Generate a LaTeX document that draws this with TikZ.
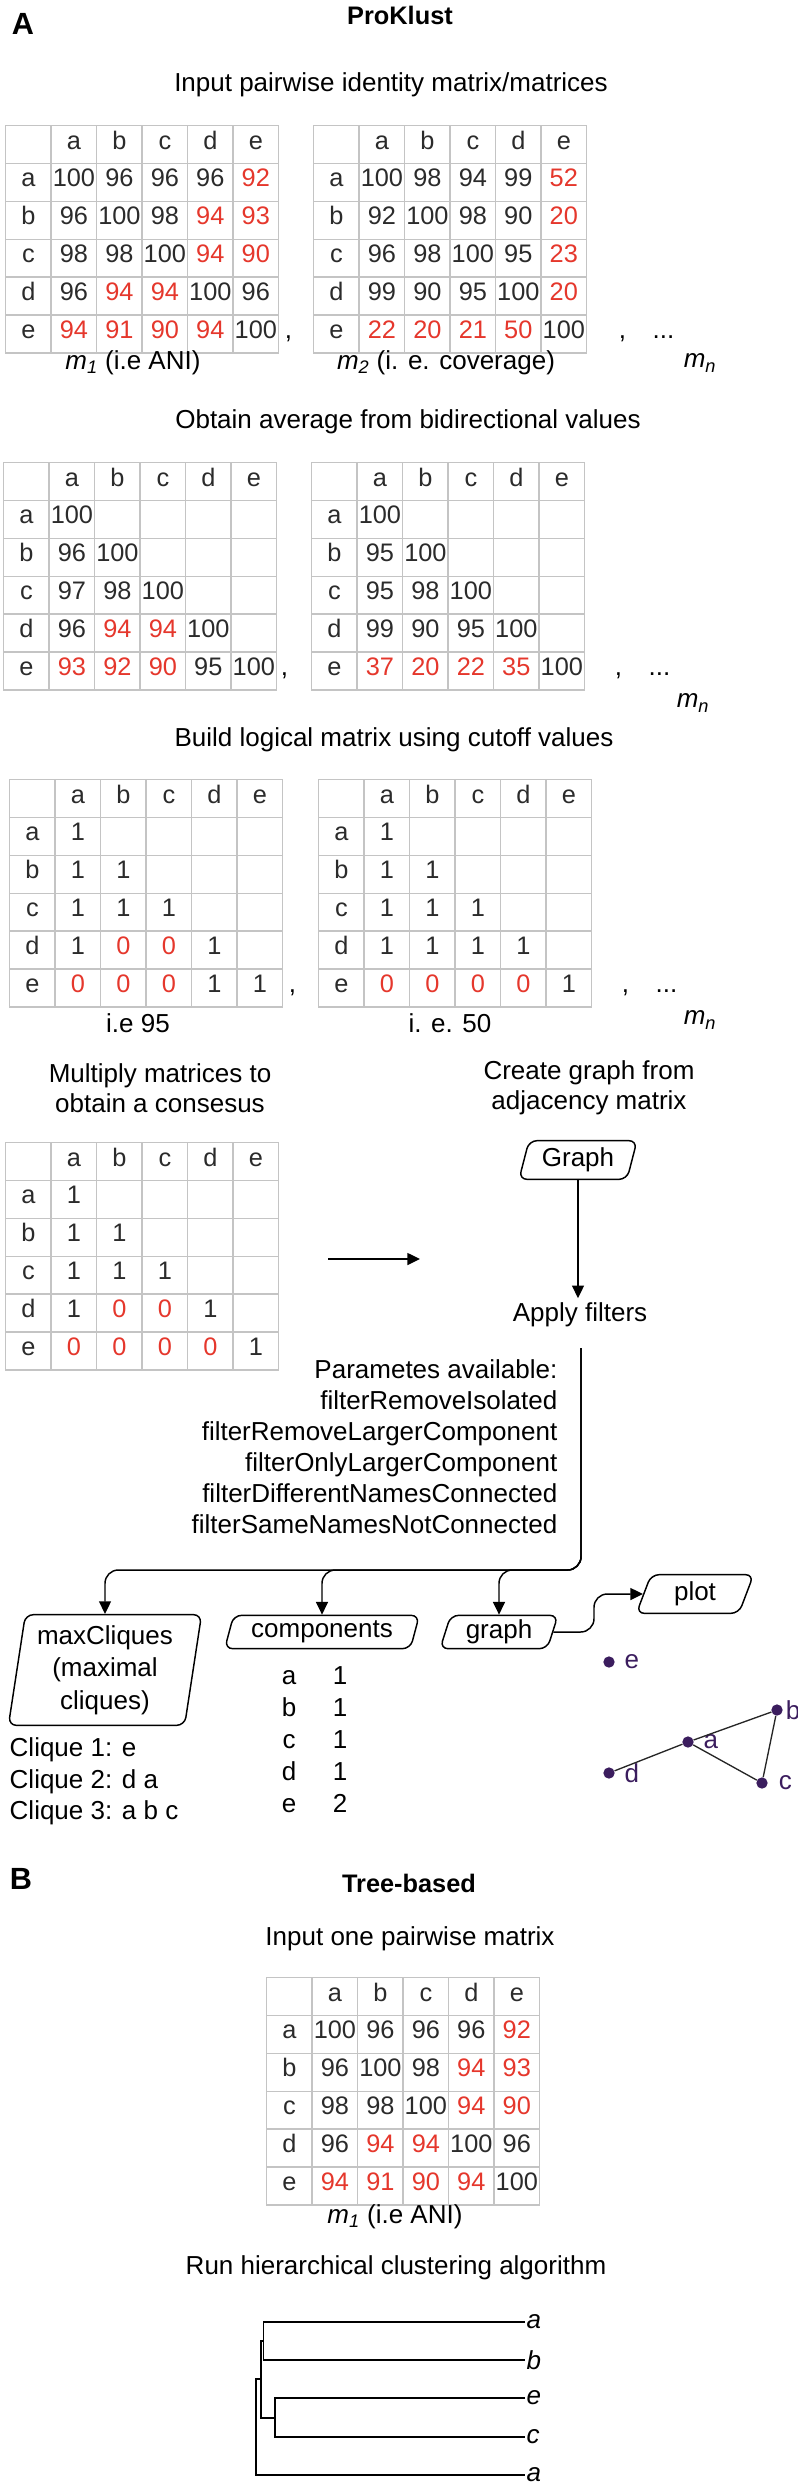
\documentclass[tikz,border=0pt]{standalone}
\usepackage{fontspec}
\setmainfont{Liberation Sans}
\usetikzlibrary{arrows.meta,positioning,calc,matrix,shapes.geometric}
\definecolor{gridc}{HTML}{C4C4C4}
\definecolor{hot}{HTML}{E5372C}
\definecolor{ink}{HTML}{2B2B2B}
\definecolor{vtx}{HTML}{3B1D5E}
\tikzset{
  cell/.style={draw=gridc,line width=1.1pt,minimum width=34.1pt,minimum height=28.4pt,
    inner sep=0pt,outer sep=0pt,text=ink,anchor=center,text height=1.45ex,text depth=.2ex,
    font=\fontsize{19}{22.5}\selectfont},
  tab/.style={matrix of nodes,nodes={cell},nodes in empty cells,row sep=-1.1pt,
    column sep=-1.1pt,inner sep=0pt,outer sep=0pt,anchor=north west},
  hi/.style={text=hot},
  heading/.style={font=\fontsize{19}{22.5}\selectfont\bfseries},
  panel/.style={font=\fontsize{23}{26}\selectfont\bfseries},
  iobox/.style={draw,line width=1.1pt,trapezium,trapezium left angle=75,
    trapezium right angle=105,trapezium stretches=true,rounded corners=6pt,
    inner sep=2pt,align=center},
  flow/.style={-{Triangle[length=9.5pt,width=9pt]},line width=1.1pt},
  dendro/.style={line width=1.4pt},
  vdot/.style={circle,fill=vtx,inner sep=0pt,minimum size=8.5pt},
  vlab/.style={text=vtx,inner sep=1pt},
  vlink/.style={line width=1pt,draw=black!85},
  leaf/.style={inner sep=1pt,anchor=west,font=\fontsize{19.5}{22.5}\selectfont\itshape},
  row/.style={text height=1.5ex,text depth=.25ex},
}

\begin{document}
\begin{tikzpicture}[x=0.75pt,y=-0.75pt,every node/.style={font=\fontsize{19.5}{22.5}\selectfont}]
  \useasboundingbox (0,0) rectangle (798,2486);
  % --- A: ProKlust
  \node[panel]   (pA) at (23,24) {A};
  \node[heading] (tA) at (400,15) {ProKlust};
  \node (s1) at (391,85) {Input pairwise identity matrix/matrices};
  \matrix (m1) [tab] at (5,125) {
      & a & b & c & d & e \\
    a & 100 & 96 & 96 & 96 & |[hi]| 92 \\
    b & 96 & 100 & 98 & |[hi]| 94 & |[hi]| 93 \\
    c & 98 & 98 & 100 & |[hi]| 94 & |[hi]| 90 \\
    d & 96 & |[hi]| 94 & |[hi]| 94 & 100 & 96 \\
    e & |[hi]| 94 & |[hi]| 91 & |[hi]| 90 & |[hi]| 94 & 100 \\
  };
  \matrix (m2) [tab] at (313,125) {
      & a & b & c & d & e \\
    a & 100 & 98 & 94 & 99 & |[hi]| 52 \\
    b & 92 & 100 & 98 & 90 & |[hi]| 20 \\
    c & 96 & 98 & 100 & 95 & |[hi]| 23 \\
    d & 99 & 90 & 95 & 100 & |[hi]| 20 \\
    e & |[hi]| 22 & |[hi]| 20 & |[hi]| 21 & |[hi]| 50 & 100 \\
  };
  \node[anchor=base west,inner sep=0pt] (k1) at ($(m1-6-6.base east)+(6,0)$) {,};
  \node[anchor=base west,inner sep=0pt] (k2) at ($(m2-6-6.base east)+(32,0)$) {,\hspace{20pt}...};
  \node (n1) at (133,363) {{\itshape m\textsubscript{1}} (i.e ANI)};
  \node (n2) at (446,363) {{\itshape m\textsubscript{2}} (i. e. coverage)};
  \node (nn1) at (700,363) {\itshape m\textsubscript{n}};

  % --- averages
  \node (s2) at (408,422) {Obtain average from bidirectional values};
  \matrix (m3) [tab] at (3,462) {
      & a & b & c & d & e \\
    a & 100 & & & & \\
    b & 96 & 100 & & & \\
    c & 97 & 98 & 100 & & \\
    d & 96 & |[hi]| 94 & |[hi]| 94 & 100 & \\
    e & |[hi]| 93 & |[hi]| 92 & |[hi]| 90 & 95 & 100 \\
  };
  \matrix (m4) [tab] at (311,462) {
      & a & b & c & d & e \\
    a & 100 & & & & \\
    b & 95 & 100 & & & \\
    c & 95 & 98 & 100 & & \\
    d & 99 & 90 & 95 & 100 & \\
    e & |[hi]| 37 & |[hi]| 20 & |[hi]| 22 & |[hi]| 35 & 100 \\
  };
  \node[anchor=base west,inner sep=0pt] (k3) at ($(m3-6-6.base east)+(4,0)$) {,};
  \node[anchor=base west,inner sep=0pt] (k4) at ($(m4-6-6.base east)+(30,0)$) {,\hspace{20pt}...};
  \node (nn2) at (693,703) {\itshape m\textsubscript{n}};

  % --- logical matrices
  \node (s3) at (394,740) {Build logical matrix using cutoff values};
  \matrix (m5) [tab] at (9,779) {
      & a & b & c & d & e \\
    a & 1 & & & & \\
    b & 1 & 1 & & & \\
    c & 1 & 1 & 1 & & \\
    d & 1 & |[hi]| 0 & |[hi]| 0 & 1 & \\
    e & |[hi]| 0 & |[hi]| 0 & |[hi]| 0 & 1 & 1 \\
  };
  \matrix (m6) [tab] at (318,779) {
      & a & b & c & d & e \\
    a & 1 & & & & \\
    b & 1 & 1 & & & \\
    c & 1 & 1 & 1 & & \\
    d & 1 & 1 & 1 & 1 & \\
    e & |[hi]| 0 & |[hi]| 0 & |[hi]| 0 & |[hi]| 0 & 1 \\
  };
  \node[anchor=base west,inner sep=0pt] (k5) at ($(m5-6-6.base east)+(6,0)$) {,};
  \node[anchor=base west,inner sep=0pt] (k6) at ($(m6-6-6.base east)+(30,0)$) {,\hspace{20pt}...};
  \node (n5) at (138,1023) {i.e 95};
  \node (n6) at (450,1023) {i. e. 50};
  \node (nn3) at (700,1020) {\itshape m\textsubscript{n}};

  % --- consensus and graph
  \node[align=center] (s4) at (160,1088) {Multiply matrices to\\obtain a consesus};
  \node[align=center] (s5) at (589,1088) {Create graph from\\adjacency matrix};
  \matrix (m7) [tab] at (5,1142) {
      & a & b & c & d & e \\
    a & 1 & & & & \\
    b & 1 & 1 & & & \\
    c & 1 & 1 & 1 & & \\
    d & 1 & |[hi]| 0 & |[hi]| 0 & 1 & \\
    e & |[hi]| 0 & |[hi]| 0 & |[hi]| 0 & |[hi]| 0 & 1 \\
  };
  \coordinate (ma) at (328,1259);
  \coordinate (mb) at (420,1259);
  \draw[flow] (ma) -- (mb);
  \node[iobox,minimum width=89pt,minimum height=29pt] (gr) at (578,1160) {Graph};
  \node (filt) at (580,1315) {Apply filters};
  \draw[flow] (gr.south) -- (gr.south |- filt.north);
  \node[align=right,anchor=north east,font=\fontsize{19.5}{23.25}\selectfont] (par) at (562,1355)
    {Parametes available:\\filterRemoveIsolated\\filterRemoveLargerComponent\\
     filterOnlyLargerComponent\\filterDifferentNamesConnected\\filterSameNamesNotConnected};

  % --- outputs
  \node[iobox,trapezium left angle=81,trapezium right angle=99,font=\fontsize{19.5}{24.4}\selectfont,
    minimum width=145pt,minimum height=83pt] (cliq) at (105,1670) {maxCliques\\(maximal\\cliques)};
  \node[iobox,minimum width=146pt,minimum height=25pt] (comp) at (322,1632) {components};
  \node[iobox,minimum width=88.5pt,minimum height=25pt] (grph) at (499,1632) {graph};
  \node[iobox,minimum width=88pt,minimum height=29pt] (plot) at (695,1594) {plot};
  \coordinate (fs) at (581,1348);
  \coordinate (hub) at (581,1570);
  \draw[flow,rounded corners=10pt] (fs) |- (hub -| cliq.north) -- (cliq.north);
  \draw[flow,rounded corners=10pt] (fs) |- (hub -| comp.north) -- (comp.north);
  \draw[flow,rounded corners=10pt] (fs) |- (hub -| grph.north) -- (grph.north);
  \coordinate (pb) at (594,1600);
  \draw[flow,rounded corners=10pt] (grph.east) -| (pb |- plot.west) -- (plot.west);

  \node[align=left,anchor=north west,font=\fontsize{19.5}{23.6}\selectfont] (cl) at (5,1733)
    {Clique 1: e\\Clique 2: d a\\Clique 3: a b c};
  \foreach \l/\v [count=\i from 0] in {a/1,b/1,c/1,d/1,e/2} {
    \node[row] (ka\i) at (289,1680+32*\i) {\l};
    \node[row] (kv\i) at (340,1680+32*\i) {\v};
  }

  \node[vdot] (ve) at (609,1662) {};
  \node[vdot] (va) at (688,1742) {};
  \node[vdot] (vb) at (777,1710) {};
  \node[vdot] (vd) at (609,1773) {};
  \node[vdot] (vc) at (762,1783) {};
  \node[vlab,right=6pt of ve] (le) {e};
  \node[vlab,right=6pt of va] (la) {a};
  \node[vlab,right=1pt of vb] (lb) {b};
  \node[vlab,right=6pt of vd] (ld) {d};
  \node[vlab,right=7pt of vc] (lc) {c};
  \draw[vlink] (vd) -- (va) -- (vb) -- (vc) -- (va);

  % --- B: tree-based
  \node[panel]   (pB) at (21,1879) {B};
  \node[heading] (tB) at (409,1883) {Tree-based};
  \node (s6) at (410,1939) {Input one pairwise matrix};
  \matrix (m8) [tab] at (266,1977) {
      & a & b & c & d & e \\
    a & 100 & 96 & 96 & 96 & |[hi]| 92 \\
    b & 96 & 100 & 98 & |[hi]| 94 & |[hi]| 93 \\
    c & 98 & 98 & 100 & |[hi]| 94 & |[hi]| 90 \\
    d & 96 & |[hi]| 94 & |[hi]| 94 & 100 & 96 \\
    e & |[hi]| 94 & |[hi]| 91 & |[hi]| 90 & |[hi]| 94 & 100 \\
  };
  \node (n8) at (395,2217) {{\itshape m\textsubscript{1}} (i.e ANI)};
  \node (s7) at (396,2268) {Run hierarchical clustering algorithm};

  \foreach \l/\y [count=\i] in {a/2322,b/2360,e/2398,c/2437,a/2475}
    \node[leaf] (lf\i) at (525,\y) {\l};
  \coordinate (jab) at (263.5,2341);
  \coordinate (jec) at (275,2418);
  \coordinate (jmid) at (261,2379);
  \coordinate (jroot) at (256,2427);
  \draw[dendro] (lf1.west) -| (jab) |- (lf2.west);
  \draw[dendro] (lf3.west) -| (jec) |- (lf4.west);
  \draw[dendro] (jab) -| (jmid) |- (jec);
  \draw[dendro] (jmid) -| (jroot) |- (lf5.west);
\end{tikzpicture}
\end{document}
